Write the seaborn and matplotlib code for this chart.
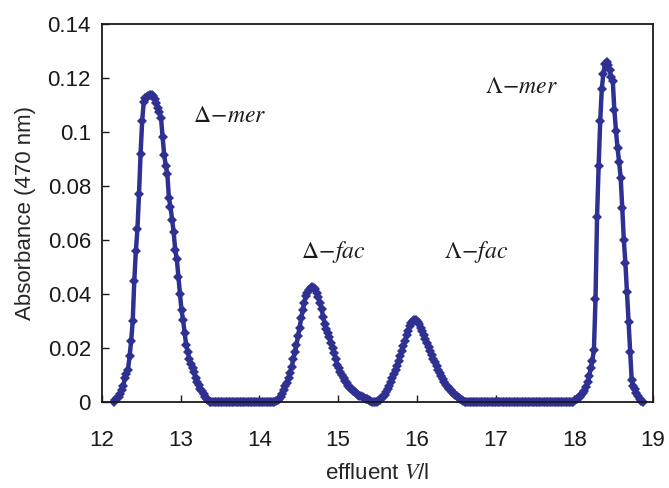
import numpy as np
import pandas as pd
import matplotlib
matplotlib.use("Agg")
import matplotlib.pyplot as plt
import seaborn as sns

step = 0.02

delta_mer_start = 12.15
delta_mer = [0.0, 0.0008, 0.0015, 0.002, 0.003, 0.0044, 0.006, 0.0089,
             0.0105, 0.012, 0.017, 0.0225, 0.030,
             0.045, 0.056, 0.064, 0.077, 0.092,
             0.104, 0.111, 0.1125, 0.1131, 0.1134,
             0.1136, 0.1137, 0.1132, 0.1122, 0.1106,
             0.109, 0.1075, 0.105, 0.098, 0.0915,
             0.0875, 0.0845, 0.0755, 0.0723, 0.0675,
             0.063, 0.0563, 0.053, 0.0464, 0.0402,
             0.034, 0.0304, 0.0255, 0.021, 0.0185,
             0.016, 0.0142, 0.0125, 0.011, 0.0088,
             0.0075, 0.0062, 0.005, 0.004, 0.003,
             0.002, 0.0013, 0.0007, 0.0002]

baseline1_start = 13.39
baseline1 = [0.0] * 41

delta_fac_start = 14.21
delta_fac = [0.0003, 0.0008, 0.0013, 0.002, 0.003, 0.0045, 0.0058, 0.0072,
             0.009, 0.0108, 0.013, 0.0158, 0.0185, 0.021, 0.0245, 0.0275,
             0.031, 0.034, 0.0368, 0.0392, 0.0405, 0.0415, 0.0423, 0.0427,
             0.0424, 0.0417, 0.0405, 0.0388, 0.0368, 0.0343, 0.0316, 0.029,
             0.0272, 0.0255, 0.024, 0.022, 0.020, 0.018, 0.016, 0.0138,
             0.0125, 0.0112, 0.0099, 0.0088, 0.0078, 0.007, 0.0061, 0.0054,
             0.0047, 0.0042, 0.0037, 0.0032, 0.0028, 0.0024, 0.0021, 0.0018,
             0.0015, 0.0013, 0.001, 0.0006, 0.0003, 0.0, 0.0]

lambda_fac_start = 15.47
lambda_fac = [0.0, 0.0002, 0.0005, 0.0009, 0.0014, 0.002, 0.0028, 0.0037,
              0.0048, 0.006, 0.0073, 0.0088, 0.0103, 0.0118, 0.0135, 0.0152,
              0.017, 0.0188, 0.0208, 0.0228, 0.0248, 0.0265, 0.028, 0.0292,
              0.0301, 0.0305, 0.0303, 0.0297, 0.0288, 0.0276, 0.0262, 0.0248,
              0.0235, 0.022, 0.0205, 0.019, 0.0175, 0.016, 0.0147, 0.0133,
              0.012, 0.0107, 0.0095, 0.0084, 0.0074, 0.0065, 0.0057, 0.005,
              0.0043, 0.0037, 0.0031, 0.0026, 0.0021, 0.0016, 0.0012, 0.0008,
              0.0004]

baseline2_start = 16.61
baseline2 = [0.0] * 69

lambda_mer_start = 17.99
lambda_mer = [0.0002, 0.0006, 0.001, 0.0015, 0.002, 0.0025, 0.0032, 0.0042,
              0.0056, 0.0075, 0.0098, 0.0125, 0.0154, 0.0193, 0.038, 0.0686,
              0.0875, 0.104, 0.116, 0.1215, 0.1252, 0.1258, 0.1248, 0.1228,
              0.1205, 0.1187, 0.108, 0.1005, 0.094, 0.089, 0.083, 0.072,
              0.060, 0.0515, 0.0407, 0.0296, 0.0186, 0.0082, 0.006, 0.0048,
              0.0035, 0.0022, 0.0012, 0.0005, 0.0]

peak_labels = [r"$\Delta\!-\!\mathit{mer}$", r"$\Delta\!-\!\mathit{fac}$",
               r"$\Lambda\!-\!\mathit{fac}$", r"$\Lambda\!-\!\mathit{mer}$"]
label_x = [13.15, 14.53, 16.35, 16.86]
label_y = [0.106, 0.0555, 0.0555, 0.1165]

segments = [(delta_mer_start, delta_mer), (baseline1_start, baseline1),
            (delta_fac_start, delta_fac), (lambda_fac_start, lambda_fac),
            (baseline2_start, baseline2), (lambda_mer_start, lambda_mer)]
frames = []
for start, vals in segments:
    vol = start + step * np.arange(len(vals))
    frames.append(pd.DataFrame({"volume": vol, "absorbance": vals}))
df = pd.concat(frames, ignore_index=True)

sns.set_style("ticks")
plt.rcParams["font.family"] = ["Liberation Sans", "DejaVu Sans"]
plt.rcParams["mathtext.fontset"] = "stix"

fig = plt.figure(figsize=(6.69, 4.88), dpi=100)
ax = fig.add_axes([0.1525, 0.176, 0.8235, 0.775])

blue = "#2e3192"
sns.lineplot(data=df, x="volume", y="absorbance", ax=ax, color=blue,
             linewidth=3.2, marker="D", markersize=5, markeredgewidth=0,
             estimator=None, sort=True, clip_on=False)

for txt, lx, ly in zip(peak_labels, label_x, label_y):
    ax.text(lx, ly, txt, fontsize=17, color="#1a1a1a", va="center", ha="left")

ax.set_xlim(12, 19)
ax.set_ylim(0, 0.14)
ax.set_xticks(range(12, 20))
ax.set_yticks([0, 0.02, 0.04, 0.06, 0.08, 0.1, 0.12, 0.14])
ax.set_yticklabels(["0", "0.02", "0.04", "0.06", "0.08", "0.1", "0.12", "0.14"])
ax.tick_params(direction="in", length=5, width=1, labelsize=16, colors="#1a1a1a")
ax.tick_params(axis="x", pad=20)
ax.tick_params(axis="y", pad=8)
for s in ax.spines.values():
    s.set_visible(True)
    s.set_linewidth(1.3)
    s.set_color("#1a1a1a")

ax.set_xlabel(r"effluent $\mathit{V}$/l", fontsize=16, labelpad=9)
ax.set_ylabel("Absorbance (470 nm)", fontsize=16, labelpad=8)

fig.savefig("out.png", dpi=100)
